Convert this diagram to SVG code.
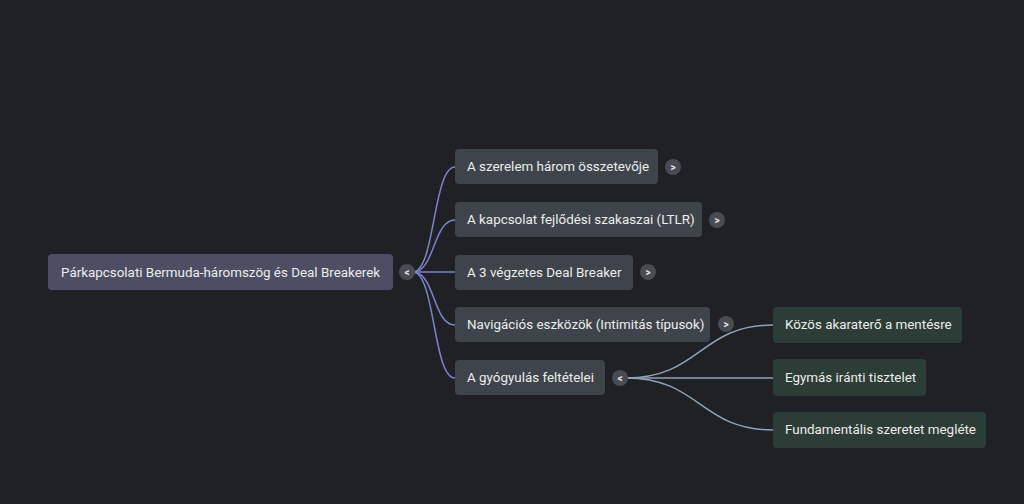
<svg xmlns="http://www.w3.org/2000/svg" width="1024" height="504" viewBox="0 0 1024 504">
<style>
.bg{fill:#202124}
.root{fill:#4d4e64}
.l1{fill:#3f444b}
.l2{fill:#2c3c36}
.t{font-family:Roboto,"Liberation Sans",sans-serif;font-size:13.4px;fill:#eceded}
.btn{fill:#484b52}
.bt{font-family:Roboto,"Liberation Sans",sans-serif;font-size:10px;font-weight:bold;fill:#e6e7ea;text-anchor:middle}
.c1{fill:none;stroke:#7c82c9;stroke-width:1.5}
.c2{fill:none;stroke:#8fa2b6;stroke-width:1.5}
</style>
<rect class="bg" x="0" y="0" width="1024" height="504"/>
<g id="connectors">
<path class="c1" d="M413,272 C435,272 433,167 455,167"/>
<path class="c1" d="M413,272 C435,272 433,220 455,220"/>
<path class="c1" d="M413,272 L455,272"/>
<path class="c1" d="M413,272 C435,272 433,325 455,325"/>
<path class="c1" d="M413,272 C435,272 433,378 455,378"/>
<path class="c2" d="M626,378 C700,378 700,325 773,325"/>
<path class="c2" d="M626,378 L773,378"/>
<path class="c2" d="M626,378 C700,378 700,430 773,430"/>
</g>
<g id="root">
<rect class="root" x="48" y="254" width="345" height="36" rx="4"/>
<text class="t" x="61" y="277">Párkapcsolati Bermuda-háromszög és Deal Breakerek</text>
<circle class="btn" cx="407" cy="272" r="8"/>
<text class="bt" x="407" y="276">&lt;</text>
</g>
<g id="n1">
<rect class="l1" x="455" y="149" width="203" height="35" rx="4"/>
<text class="t" x="467" y="171">A szerelem három összetevője</text>
<circle class="btn" cx="673" cy="167" r="8"/>
<text class="bt" x="673" y="171">&gt;</text>
</g>
<g id="n2">
<rect class="l1" x="455" y="202" width="247" height="35" rx="4"/>
<text class="t" x="467" y="224">A kapcsolat fejlődési szakaszai (LTLR)</text>
<circle class="btn" cx="717" cy="220" r="8"/>
<text class="bt" x="717" y="224">&gt;</text>
</g>
<g id="n3">
<rect class="l1" x="455" y="255" width="178" height="35" rx="4"/>
<text class="t" x="467" y="277">A 3 végzetes Deal Breaker</text>
<circle class="btn" cx="648" cy="272" r="8"/>
<text class="bt" x="648" y="276">&gt;</text>
</g>
<g id="n4">
<rect class="l1" x="455" y="307" width="255" height="35" rx="4"/>
<text class="t" x="467" y="329">Navigációs eszközök (Intimitás típusok)</text>
<circle class="btn" cx="726" cy="324" r="8"/>
<text class="bt" x="726" y="328">&gt;</text>
</g>
<g id="n5">
<rect class="l1" x="455" y="360" width="150" height="35" rx="4"/>
<text class="t" x="467" y="382">A gyógyulás feltételei</text>
<circle class="btn" cx="620" cy="378" r="8"/>
<text class="bt" x="620" y="382">&lt;</text>
</g>
<g id="n6">
<rect class="l2" x="773" y="307" width="189" height="36" rx="4"/>
<text class="t" x="785" y="329">Közös akaraterő a mentésre</text>
</g>
<g id="n7">
<rect class="l2" x="773" y="359" width="153" height="37" rx="4"/>
<text class="t" x="785" y="382">Egymás iránti tisztelet</text>
</g>
<g id="n8">
<rect class="l2" x="773" y="412" width="213" height="36" rx="4"/>
<text class="t" x="785" y="434">Fundamentális szeretet megléte</text>
</g>
</svg>
